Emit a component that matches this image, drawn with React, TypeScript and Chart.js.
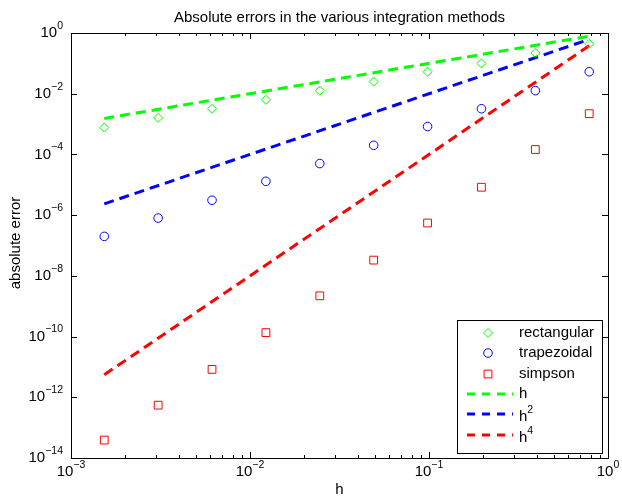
import React, { useEffect, useRef } from "react";
import { Chart, registerables } from "chart.js";

Chart.register(...registerables);

// Step sizes h (pi/4 / 2^k)
const hValues = [0.7854, 0.3927, 0.19635, 0.098175, 0.049087, 0.024544, 0.012272, 0.006136, 0.003068, 0.001534];
// Absolute errors per method
const rectangularErr = [0.44, 0.22, 0.1, 0.053, 0.025, 0.0126, 0.0063, 0.0032, 0.0016, 0.00077];
const trapezoidalErr = [0.053, 0.0126, 0.0032, 8.3e-4, 2e-4, 5e-5, 1.3e-5, 3.1e-6, 8e-7, 2e-7];
const simpsonErr = [0.0022, 1.45e-4, 8.3e-6, 5.5e-7, 3.3e-8, 2.2e-9, 1.35e-10, 8.3e-12, 5.5e-13, 3.9e-14];
// Reference lines (end points)
const refLineX = [0.001534, 0.7854];
const refH = [0.001534, 0.7854];
const refH2 = [2.353e-6, 0.6169];
const refH4 = [5.54e-12, 0.3805];
// Ticks
const xTickExps = [-3, -2, -1, 0];
const yTickExps = [0, -2, -4, -6, -8, -10, -12, -14];

const titleText = "Absolute errors in the various integration methods";
const xLabel = "h";
const yLabel = "absolute error";
const legendLabels = ["rectangular", "trapezoidal", "simpson", "h", "h", "h"];
const legendExps = ["", "", "", "", "2", "4"];

const GREEN = "#00ff00";
const BLUE = "#0000ff";
const RED = "#ff0000";
const FONT = "'Liberation Sans', Arial, Helvetica, sans-serif";
const FS = 15;
const FS_TICK = 15;
const FS_SUP = 10.5;

const pts = (xs: number[], ys: number[]) => xs.map((x, i) => ({ x, y: ys[i] }));

function drawPow(ctx: CanvasRenderingContext2D, exp: string, x: number, y: number, align: "right" | "center") {
  ctx.font = `${FS_TICK}px ${FONT}`;
  const w1 = ctx.measureText("10").width;
  ctx.font = `${FS_SUP}px ${FONT}`;
  const w2 = ctx.measureText(exp).width;
  const total = w1 + w2;
  const x0 = align === "right" ? x - total : x - total / 2;
  ctx.textAlign = "left";
  ctx.textBaseline = "middle";
  ctx.font = `${FS_TICK}px ${FONT}`;
  ctx.fillText("10", x0, y);
  ctx.font = `${FS_SUP}px ${FONT}`;
  ctx.fillText(exp, x0 + w1, y - 7);
}

function marker(ctx: CanvasRenderingContext2D, kind: string, x: number, y: number, color: string) {
  ctx.save();
  ctx.strokeStyle = color;
  ctx.lineWidth = 1;
  ctx.setLineDash([]);
  ctx.beginPath();
  if (kind === "diamond") {
    const r = 4.5;
    ctx.moveTo(x - r, y);
    ctx.lineTo(x, y - r);
    ctx.lineTo(x + r, y);
    ctx.lineTo(x, y + r);
    ctx.closePath();
  } else if (kind === "circle") {
    ctx.arc(x, y, 4.3, 0, Math.PI * 2);
  } else {
    const s = 3.9;
    ctx.rect(x - s, y - s, 2 * s, 2 * s);
  }
  ctx.stroke();
  ctx.restore();
}

const decorPlugin = {
  id: "decor",
  afterDraw(chart: any) {
    const { ctx, chartArea } = chart;
    const { left, right, top, bottom } = chartArea;
    const xs = chart.scales.x;
    const ys = chart.scales.y;
    ctx.save();
    ctx.fillStyle = "#000";
    ctx.strokeStyle = "#000";
    ctx.lineWidth = 1;
    ctx.setLineDash([]);
    // box
    ctx.strokeRect(Math.round(left) + 0.5, Math.round(top) + 0.5, Math.round(right - left), Math.round(bottom - top));
    // ticks
    ctx.beginPath();
    for (const e of xTickExps) {
      const px = Math.round(xs.getPixelForValue(Math.pow(10, e))) + 0.5;
      ctx.moveTo(px, bottom);
      ctx.lineTo(px, bottom - 6);
      ctx.moveTo(px, top);
      ctx.lineTo(px, top + 6);
      if (e < 0) {
        for (let k = 2; k <= 9; k++) {
          const mx = Math.round(xs.getPixelForValue(k * Math.pow(10, e))) + 0.5;
          ctx.moveTo(mx, bottom);
          ctx.lineTo(mx, bottom - 3);
          ctx.moveTo(mx, top);
          ctx.lineTo(mx, top + 3);
        }
      }
    }
    for (const e of yTickExps) {
      const py = Math.round(ys.getPixelForValue(Math.pow(10, e))) + 0.5;
      ctx.moveTo(left, py);
      ctx.lineTo(left + 6, py);
      ctx.moveTo(right, py);
      ctx.lineTo(right - 6, py);
    }
    ctx.stroke();
    // tick labels
    for (const e of xTickExps) {
      const px = xs.getPixelForValue(Math.pow(10, e));
      drawPow(ctx, e < 0 ? "\u2212" + Math.abs(e) : String(e), px, bottom + 14, "center");
    }
    for (const e of yTickExps) {
      const py = ys.getPixelForValue(Math.pow(10, e));
      drawPow(ctx, e < 0 ? "\u2212" + Math.abs(e) : String(e), left - 8, py, "right");
    }
    // title & axis labels
    ctx.font = `${FS}px ${FONT}`;
    ctx.textAlign = "center";
    ctx.textBaseline = "middle";
    ctx.fillText(titleText, (left + right) / 2, 18);
    ctx.fillText(xLabel, (left + right) / 2, 490);
    ctx.save();
    ctx.translate(16, 243);
    ctx.rotate(-Math.PI / 2);
    ctx.fillText(yLabel, 0, 0);
    ctx.restore();

    // legend
    const lx = 457, ly = 320, lw = 145, lh = 133;
    ctx.fillStyle = "#fff";
    ctx.fillRect(lx, ly, lw, lh);
    ctx.strokeStyle = "#000";
    ctx.strokeRect(lx + 0.5, ly + 0.5, lw, lh);
    const rows = [333, 353, 374, 394, 414, 435];
    const kinds = ["diamond", "circle", "square", "line", "line", "line"];
    const colors = [GREEN, BLUE, RED, GREEN, BLUE, RED];
    rows.forEach((ry, i) => {
      if (kinds[i] === "line") {
        ctx.save();
        ctx.strokeStyle = colors[i];
        ctx.lineWidth = 3;
        ctx.setLineDash([8, 7]);
        ctx.beginPath();
        ctx.moveTo(467, ry);
        ctx.lineTo(513, ry);
        ctx.stroke();
        ctx.restore();
      } else {
        marker(ctx, kinds[i], 488, ry, colors[i]);
      }
      ctx.fillStyle = "#000";
      ctx.textAlign = "left";
      ctx.textBaseline = "middle";
      ctx.font = `${FS}px ${FONT}`;
      const ty = legendExps[i] ? ry + 3 : ry;
      ctx.fillText(legendLabels[i], 519, ty);
      if (legendExps[i]) {
        const w = ctx.measureText(legendLabels[i]).width;
        ctx.font = `${FS_SUP}px ${FONT}`;
        ctx.fillText(legendExps[i], 519 + w, ty - 7);
      }
    });
    ctx.restore();
  },
};

export default function App() {
  const ref = useRef<HTMLCanvasElement | null>(null);
  useEffect(() => {
    if (!ref.current) return;
    const lineDs = (label: string, ys: number[], color: string) => ({
      type: "line" as const,
      label,
      data: pts(refLineX, ys),
      borderColor: color,
      borderWidth: 3,
      borderDash: [10, 6],
      pointRadius: 0,
      showLine: true,
      fill: false,
    });
    const markDs = (label: string, ys: number[], color: string, style: string, r: number) => ({
      type: "scatter" as const,
      label,
      data: pts(hValues, ys),
      borderColor: color,
      backgroundColor: "rgba(0,0,0,0)",
      pointStyle: style,
      pointRadius: r,
      pointBorderWidth: 1,
      showLine: false,
    });
    const chart = new Chart(ref.current, {
      type: "scatter",
      data: {
        datasets: [
          markDs("rectangular", rectangularErr, GREEN, "rectRot", 4.5),
          markDs("trapezoidal", trapezoidalErr, BLUE, "circle", 4.3),
          markDs("simpson", simpsonErr, RED, "rect", 5.5),
          lineDs("h", refH, GREEN),
          lineDs("h^2", refH2, BLUE),
          lineDs("h^4", refH4, RED),
        ] as any,
      },
      options: {
        animation: false,
        responsive: false,
        devicePixelRatio: 1,
        layout: { padding: { left: 71, top: 33, right: 14, bottom: 42 } },
        plugins: { legend: { display: false }, tooltip: { enabled: false }, title: { display: false } },
        scales: {
          x: { type: "logarithmic", min: 1e-3, max: 1, display: false },
          y: { type: "logarithmic", min: 1e-14, max: 1, display: false },
        },
      },
      plugins: [decorPlugin],
    });
    return () => chart.destroy();
  }, []);
  return (
    <div style={{ position: "absolute", left: 0, top: 0, width: 622, height: 500, background: "#fff" }}>
      <canvas ref={ref} width={622} height={500} style={{ display: "block" }} />
    </div>
  );
}
